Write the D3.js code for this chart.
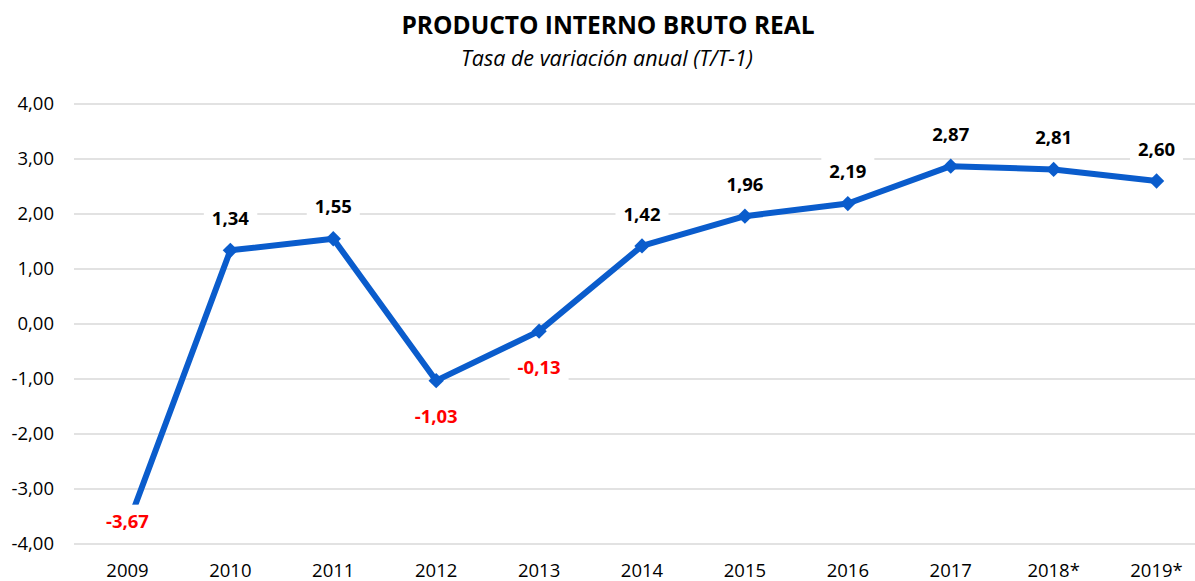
<!DOCTYPE html>
<html>
<head>
<meta charset="utf-8">
<script src="https://cdn.jsdelivr.net/npm/d3@7"></script>
<style>
  body { margin: 0; background: #fff; }
  svg { display: block; font-family: "Open Sans", Carlito, Calibri, sans-serif; }
</style>
</head>
<body>
<div id="chart"></div>
<script>
// data
var years = ["2009", "2010", "2011", "2012", "2013", "2014", "2015", "2016", "2017", "2018*", "2019*"];
var growth = [-3.67, 1.34, 1.55, -1.03, -0.13, 1.42, 1.96, 2.19, 2.87, 2.81, 2.60];
var labelSide = ["below", "above", "above", "below", "below", "above", "above", "above", "above", "above", "above"];
var yTicks = [-4, -3, -2, -1, 0, 1, 2, 3, 4];

var width = 1195, height = 581;
var margin = {top: 104, right: -13, bottom: 37, left: 76};
var font = "'Open Sans', Carlito, Calibri, sans-serif";

//comma decimals, plain hyphen for minus
var fmt = function(v) { return d3.format(".2f")(v).replace(".", ",").replace("\u2212", "-"); };

var svg = d3.select("#chart").append("svg")
  .attr("width", width)
  .attr("height", height);

//title
svg.append("text")
  .attr("x", 608).attr("y", 34)
  .attr("text-anchor", "middle")
  .style("font-size", "24.5px")
  .style("font-weight", "bold")
  .text("PRODUCTO INTERNO BRUTO REAL");

svg.append("text")
  .attr("x", 607).attr("y", 66)
  .attr("text-anchor", "middle")
  .style("font-size", "21.5px")
  .style("font-style", "italic")
  .text("Tasa de variación anual (T/T-1)");

var x = d3.scaleBand()
  .domain(years)
  .range([margin.left, width - margin.right]);

var y = d3.scaleLinear()
  .domain([-4, 4])
  .range([height - margin.bottom, margin.top]);

var cx = function(i) { return x(years[i]) + x.bandwidth() / 2; };

//gridlines
svg.append("g")
  .selectAll("line")
  .data(yTicks)
  .enter().append("line")
  .attr("x1", 74).attr("x2", width)
  .attr("y1", d => y(d)).attr("y2", d => y(d))
  .style("stroke", "#d9d9d9")
  .style("stroke-width", 1.5);

//y axis labels
var yAxis = svg.append("g")
  .attr("transform", "translate(54,0)")
  .call(d3.axisLeft(y).tickValues(yTicks).tickSize(0).tickPadding(0).tickFormat(fmt));
yAxis.select(".domain").remove();
yAxis.selectAll("text")
  .style("font-family", font)
  .style("font-size", "18.5px")
  .style("fill", "#000");

//x axis labels
var xAxis = svg.append("g")
  .attr("transform", "translate(0," + y(-4) + ")")
  .call(d3.axisBottom(x).tickSize(0).tickPadding(20));
xAxis.select(".domain").remove();
xAxis.selectAll("text")
  .style("font-family", font)
  .style("font-size", "18.5px")
  .style("fill", "#000");

//line
var line = d3.line()
  .x((d, i) => cx(i))
  .y(d => y(d));

svg.append("path")
  .datum(growth)
  .attr("d", line)
  .style("fill", "none")
  .style("stroke", "#0a5ccc")
  .style("stroke-width", 6)
  .style("stroke-linejoin", "round");

//diamond markers
svg.append("g")
  .selectAll("path")
  .data(growth)
  .enter().append("path")
  .attr("transform", (d, i) => "translate(" + cx(i) + "," + y(d) + ")")
  .attr("d", d3.symbol().type(d3.symbolDiamond2).size(150))
  .style("fill", "#0a5ccc");

//data labels with white boxes
var labels = svg.append("g")
  .selectAll("g")
  .data(growth)
  .enter().append("g")
  .attr("transform", function(d, i) {
    var ly = labelSide[i] === "above" ? y(d) - 32 : y(d) + 36;
    ly = Math.min(ly, y(-4) - 23); // keep inside plot area
    return "translate(" + cx(i) + "," + ly + ")";
  });

var labelText = labels.append("text")
  .attr("text-anchor", "middle")
  .attr("dy", "0.36em")
  .style("font-size", "18.5px")
  .style("font-weight", "bold")
  .style("fill", d => d < 0 ? "#ff0000" : "#000")
  .text(fmt);

labels.insert("rect", "text")
  .each(function(d, i) {
    var bb = labelText.nodes()[i].getBBox();
    d3.select(this)
      .attr("x", bb.x - 8).attr("y", bb.y - 3)
      .attr("width", bb.width + 16).attr("height", bb.height + 6);
  })
  .style("fill", "#fff");
</script>
</body>
</html>
